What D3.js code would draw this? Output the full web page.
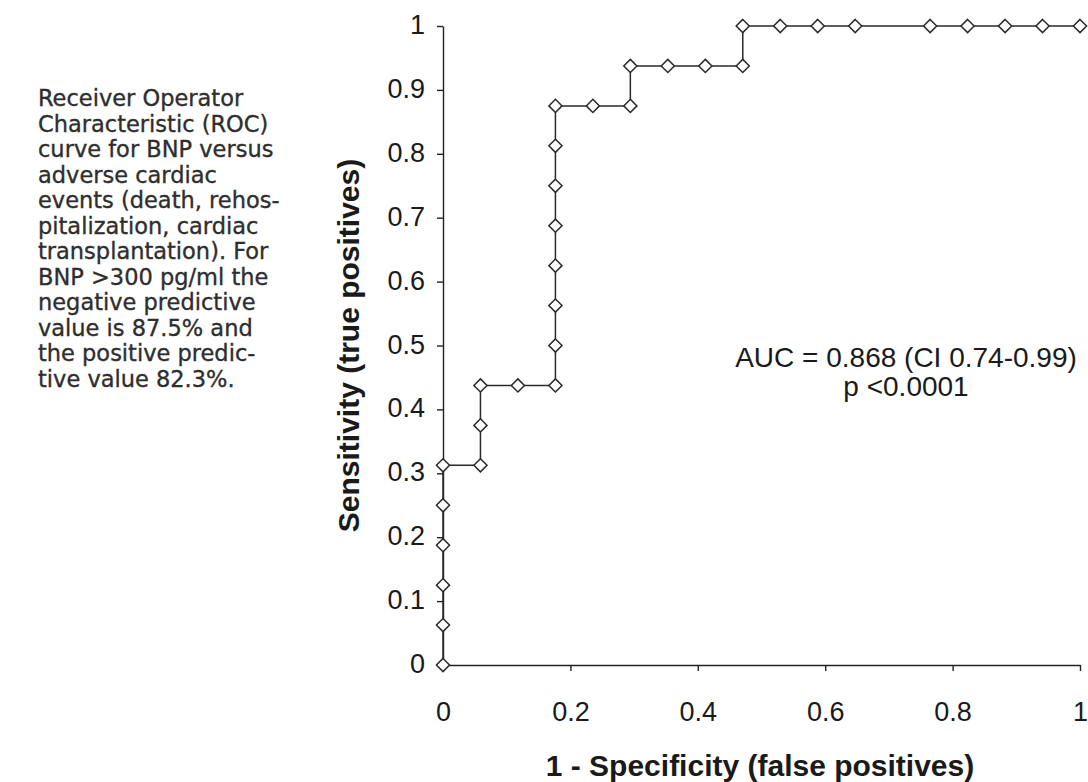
<!DOCTYPE html>
<html>
<head>
<meta charset="utf-8">
<script src="https://cdn.jsdelivr.net/npm/d3@7"></script>
<style>
  html, body { margin: 0; padding: 0; background: #ffffff; }
  svg { display: block; }
</style>
</head>
<body>
<svg id="chart" width="1088" height="782"></svg>
<script>
// ROC curve coordinates: 1 - specificity (x) and sensitivity (y)
const falsePositiveRate = [
  0, 0, 0, 0, 0, 0,
  0.0588, 0.0588, 0.0588,
  0.1176,
  0.1765, 0.1765, 0.1765, 0.1765, 0.1765, 0.1765, 0.1765, 0.1765,
  0.2353,
  0.2941, 0.2941,
  0.3529, 0.4118,
  0.4706, 0.4706,
  0.5294, 0.5882, 0.6471, 0.7647, 0.8235, 0.8824, 0.9412, 1
];
const truePositiveRate = [
  0, 0.0625, 0.125, 0.1875, 0.25, 0.3125,
  0.3125, 0.375, 0.4375,
  0.4375,
  0.4375, 0.5, 0.5625, 0.625, 0.6875, 0.75, 0.8125, 0.875,
  0.875,
  0.875, 0.9375,
  0.9375, 0.9375,
  0.9375, 1,
  1, 1, 1, 1, 1, 1, 1, 1
];
const xTicks = [0, 0.2, 0.4, 0.6, 0.8, 1];
const yTicks = [0, 0.1, 0.2, 0.3, 0.4, 0.5, 0.6, 0.7, 0.8, 0.9, 1];
const captionLines = [
  "Receiver Operator",
  "Characteristic (ROC)",
  "curve for BNP versus",
  "adverse cardiac",
  "events (death, rehos-",
  "pitalization, cardiac",
  "transplantation). For",
  "BNP >300 pg/ml the",
  "negative predictive",
  "value is 87.5% and",
  "the positive predic-",
  "tive value 82.3%."
];
const statLines = ["AUC = 0.868 (CI 0.74-0.99)", "p <0.0001"];

const points = falsePositiveRate.map((x, i) => ({ x, y: truePositiveRate[i] }));

const svg = d3.select("#chart");
const plot = { left: 443, right: 1080, top: 26, bottom: 665 };

const x = d3.scaleLinear().domain([0, 1]).range([plot.left, plot.right]);
const y = d3.scaleLinear().domain([0, 1]).range([plot.bottom, plot.top]);

const fmt = d => d === 0 || d === 1 ? String(d) : d3.format(".1f")(d);
const axisFont = "'Liberation Sans', Arial, sans-serif";

// X axis
const gx = svg.append("g")
  .attr("transform", `translate(0,${plot.bottom})`)
  .call(d3.axisBottom(x).tickValues(xTicks).tickFormat(fmt).tickSize(6).tickSizeOuter(0).tickPadding(31));
gx.select(".domain").attr("stroke", "#222").attr("stroke-width", 1.4);
gx.selectAll(".tick line").attr("stroke", "#222").attr("stroke-width", 1.4);
gx.selectAll(".tick text")
  .attr("font-family", axisFont).attr("font-size", 27).attr("fill", "#1a1a1a");

// Y axis
const gy = svg.append("g")
  .attr("transform", `translate(${plot.left},0)`)
  .call(d3.axisLeft(y).tickValues(yTicks).tickFormat(fmt).tickSize(6).tickSizeOuter(0).tickPadding(12));
gy.select(".domain").attr("stroke", "#222").attr("stroke-width", 1.4);
gy.selectAll(".tick line").attr("stroke", "#222").attr("stroke-width", 1.4);
gy.selectAll(".tick text")
  .attr("font-family", axisFont).attr("font-size", 27).attr("fill", "#1a1a1a")
  .attr("dy", "0.28em");

// Axis titles
svg.append("text")
  .attr("x", 760).attr("y", 776)
  .attr("text-anchor", "middle")
  .attr("font-family", axisFont).attr("font-weight", "bold").attr("font-size", 30)
  .attr("fill", "#1a1a1a")
  .text("1 - Specificity (false positives)");

svg.append("text")
  .attr("transform", `translate(359,${(plot.top + plot.bottom) / 2}) rotate(-90)`)
  .attr("text-anchor", "middle")
  .attr("font-family", axisFont).attr("font-weight", "bold").attr("font-size", 30)
  .attr("fill", "#1a1a1a")
  .text("Sensitivity (true positives)");

// ROC step line
const line = d3.line().x(d => x(d.x)).y(d => y(d.y));
svg.append("path")
  .datum(points)
  .attr("d", line)
  .attr("fill", "none")
  .attr("stroke", "#2a2a2a")
  .attr("stroke-width", 1.5);

// Diamond markers
const diamond = d3.symbol().type(d3.symbolDiamond2).size(110);
svg.append("g").selectAll("path")
  .data(points)
  .join("path")
  .attr("transform", d => `translate(${x(d.x)},${y(d.y)})`)
  .attr("d", diamond)
  .attr("fill", "#ffffff")
  .attr("stroke", "#2a2a2a")
  .attr("stroke-width", 1.5);

// AUC annotation
svg.append("g").selectAll("text")
  .data(statLines)
  .join("text")
  .attr("x", 906).attr("y", (d, i) => 367 + i * 29)
  .attr("text-anchor", "middle")
  .attr("font-family", axisFont).attr("font-size", 28)
  .attr("fill", "#1a1a1a")
  .text(d => d);

// Caption block
svg.append("g").selectAll("text")
  .data(captionLines)
  .join("text")
  .attr("x", 38).attr("y", (d, i) => 106 + i * 25.5)
  .attr("font-family", "'DejaVu Sans', Verdana, sans-serif")
  .attr("font-size", 22.5)
  .attr("fill", "#2e2e2e")
  .attr("stroke", "#2e2e2e")
  .attr("stroke-width", 0.35)
  .text(d => d);
</script>
</body>
</html>
